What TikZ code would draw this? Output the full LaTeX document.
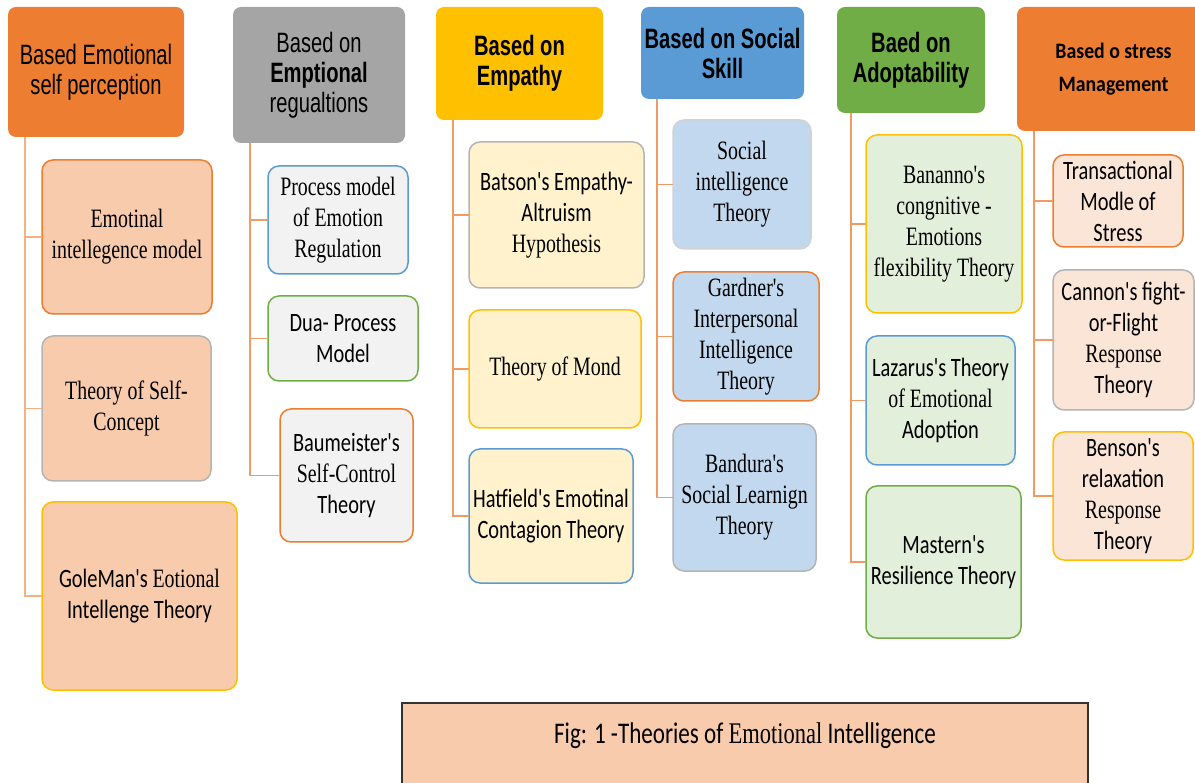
\documentclass[tikz,border=0pt]{standalone}
\usepackage{fontspec}
\setmainfont{Carlito}[FakeStretch=0.77, Ligatures=TeXOff]
\newfontfamily\srf{Liberation Serif}[FakeStretch=0.75, Ligatures=TeXOff]
\newfontfamily\hdf{Liberation Sans}[FakeStretch=0.72]
\newfontfamily\hdc{Carlito}[FakeStretch=0.9]
\definecolor{cOrange}{HTML}{ED7D31}
\definecolor{cGray}{HTML}{A5A5A5}
\definecolor{cGold}{HTML}{FFC000}
\definecolor{cBlue}{HTML}{5B9BD5}
\definecolor{cGreen}{HTML}{70AD47}
\definecolor{cPeach}{HTML}{F8CBAD}
\definecolor{cLGray}{HTML}{F2F2F2}
\definecolor{cCream}{HTML}{FFF2CC}
\definecolor{cLBlue}{HTML}{C2D8EE}
\definecolor{cLGreen}{HTML}{E2EFDA}
\definecolor{cLPeach}{HTML}{FBE5D6}
\definecolor{cLine}{HTML}{F19A62}
\definecolor{cLine1}{HTML}{F4B183}
\definecolor{cBGray}{HTML}{B4B4B4}
\newcommand\bx[7]{\node[#6, anchor=north west, minimum width={#4-#2}, minimum height={#5-#3}] (#1) at (#2,#3) {#7};}
\tikzset{
  hd/.style={rounded corners=8pt, align=center, inner sep=0pt, outer sep=0pt, text=black,
             font=\hdf\fontsize{28}{30}\selectfont},
  tb/.style={draw, line width=1.5pt, rounded corners=11pt, align=center, inner sep=0pt, outer sep=0pt,
             text=black, font=\fontsize{26.5}{31}\selectfont},
  conn/.style={draw=cLine, line width=1.6pt},
  conn1/.style={draw=cLine1, line width=1.8pt},
}
\begin{document}
\begin{tikzpicture}[x=1pt,y=-1pt]
\useasboundingbox (0,0) rectangle (1195,783);
\clip (0,0) rectangle (1195,783);
% headers
\bx{h1}{8}{7}{184}{137}{hd, fill=cOrange}{Based Emotional\\self perception}
\bx{h2}{233}{7}{405}{143}{hd, fill=cGray}{Based on\\\textbf{Emptional}\\regualtions}
\bx{h3}{436}{7}{603}{120}{hd, fill=cGold}{\textbf{Based on}\\\textbf{Empathy}}
\bx{h4}{641}{7}{804}{99}{hd, fill=cBlue}{\textbf{Based on Social}\\\textbf{Skill}}
\bx{h5}{837}{7}{985}{113}{hd, fill=cGreen}{\textbf{Baed on}\\\textbf{Adoptability}}
\bx{h6}{1017}{7}{1210}{131}{hd, fill=cOrange, font=\hdc\fontsize{22}{33}\selectfont\bfseries}{Based o stress\\Management}
% column 1
\bx{b11}{42}{160}{212}{314}{tb, fill=cPeach, draw=cOrange}{\srf Emotinal\\\srf intellegence model}
\bx{b12}{42}{336}{211}{481}{tb, fill=cPeach, draw=cBGray}{\srf Theory of Self-\\\srf Concept}
\bx{b13}{42}{502}{237}{690}{tb, fill=cPeach, draw=cGold}{GoleMan's {\srf Eotional}\\Intellenge Theory}
% column 2
\bx{b21}{268}{166}{408}{274}{tb, fill=cLGray, draw=cBlue}{\srf Process model\\\srf of Emotion\\\srf Regulation}
\bx{b22}{268}{296}{418}{381}{tb, fill=cLGray, draw=cGreen}{Dua- Process\\Model}
\bx{b23}{280}{409}{413}{542}{tb, fill=cLGray, draw=cOrange}{Baumeister's\\{\srf Self-Control}\\Theory}
% column 3
\bx{b31}{469}{142}{644}{288}{tb, fill=cCream, draw=cBGray}{Batson's Empathy-\\Altruism\\{\srf Hypothesis}}
\bx{b32}{469}{310}{641}{428}{tb, fill=cCream, draw=cGold}{\srf Theory of Mond}
\bx{b33}{469}{449}{633}{583}{tb, fill=cCream, draw=cBlue}{Hatfield's Emotinal\\Contagion Theory}
% column 4
\bx{b41}{673}{120}{811}{249}{tb, fill=cLBlue, draw=cBGray!60}{\srf Social\\\srf intelligence\\\srf Theory}
\bx{b42}{673}{272}{819}{401}{tb, fill=cLBlue, draw=cOrange}{\srf Gardner's\\\srf Interpersonal\\\srf Intelligence\\\srf Theory}
\bx{b43}{673}{424}{816}{571}{tb, fill=cLBlue, draw=cBGray}{\srf Bandura's\\\srf Social Learnign\\\srf Theory}
% column 5
\bx{b51}{866}{135}{1022}{313}{tb, fill=cLGreen, draw=cGold}{\srf Bananno's\\\srf congnitive -\\\srf Emotions\\\srf flexibility Theory}
\bx{b52}{866}{336}{1015}{465}{tb, fill=cLGreen, draw=cBlue}{Lazarus's Theory\\{\srf of Emotional}\\Adoption}
\bx{b53}{866}{486}{1021}{638}{tb, fill=cLGreen, draw=cGreen}{Mastern's\\Resilience Theory}
% column 6
\bx{b61}{1053}{155}{1183}{247}{tb, fill=cLPeach, draw=cOrange}{Transactional\\Modle of\\Stress}
\bx{b62}{1053}{270}{1194}{410}{tb, fill=cLPeach, draw=cBGray}{Cannon's fight-\\or-Flight\\{\srf Response}\\Theory}
\bx{b63}{1053}{432}{1193}{560}{tb, fill=cLPeach, draw=cGold}{Benson's\\relaxation\\{\srf Response}\\Theory}
% caption
\node[anchor=north, fill=cPeach, draw=black!80, line width=1.5pt, minimum width=686, minimum height=110,
      inner sep=0pt, text depth=50pt, font=\fontsize{30}{34}\selectfont] (cap) at (745,702)
      {Fig: 1 -Theories of {\srf Emotional} Intelligence};
% connectors
\foreach \b in {b11,b12,b13}{\draw[conn1] ([xshift=17pt]h1.south west) |- (\b.west);}
\foreach \b in {b21,b22,b23}{\draw[conn] ([xshift=17pt]h2.south west) |- (\b.west);}
\foreach \b in {b31,b32,b33}{\draw[conn] ([xshift=17pt]h3.south west) |- (\b.west);}
\foreach \b in {b41,b42,b43}{\draw[conn] ([xshift=16pt]h4.south west) |- (\b.west);}
\foreach \b in {b51,b52,b53}{\draw[conn] ([xshift=14pt]h5.south west) |- (\b.west);}
\foreach \b in {b61,b62,b63}{\draw[conn] ([xshift=17pt]h6.south west) |- (\b.west);}
\end{tikzpicture}
\end{document}
